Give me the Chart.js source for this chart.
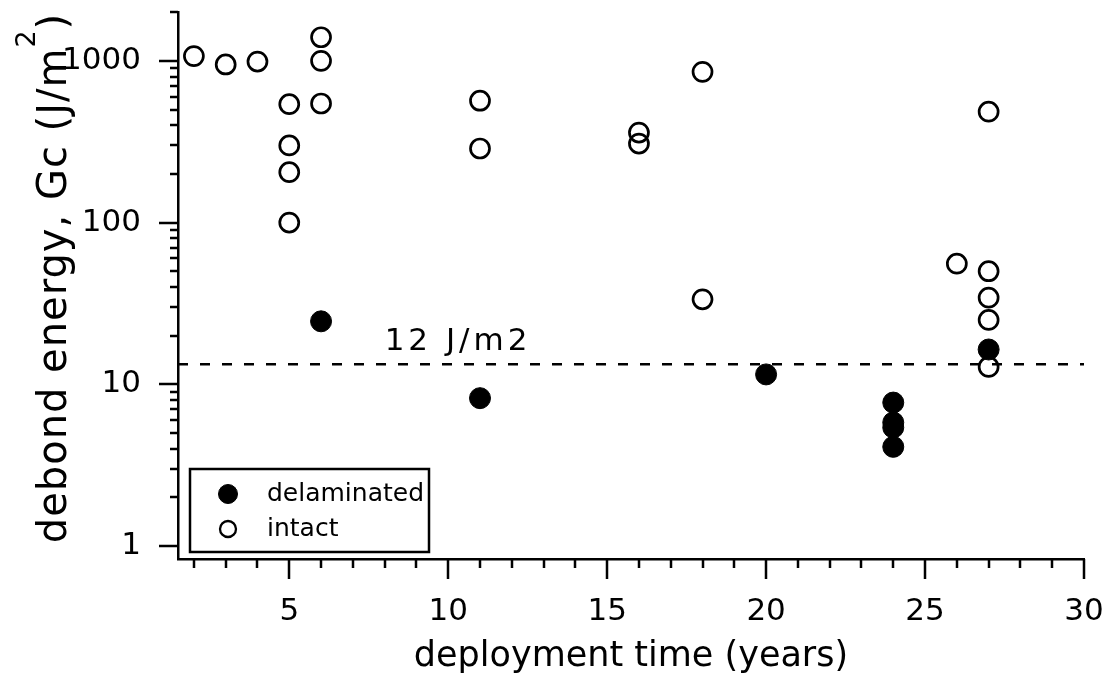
<!DOCTYPE html>
<html>
<head>
<meta charset="utf-8">
<script src="https://cdn.jsdelivr.net/npm/chart.js@4.4.0/dist/chart.umd.min.js"></script>
<style>
  html, body { margin: 0; padding: 0; background: #fff; }
  #wrap { width: 1105px; height: 676px; }
</style>
</head>
<body>
<div id="wrap"><canvas id="gcChart" width="1105" height="676"></canvas></div>
<script>
// values
const delamYears = [6, 11, 20, 24, 24, 24, 24, 27];
const delamGc = [24.5, 8.2, 11.5, 7.7, 5.8, 5.4, 4.1, 16.4];
const intactYears = [2, 3, 4, 5, 5, 5, 5, 6, 6, 6, 11, 11, 16, 16, 18, 18, 26, 27, 27, 27, 27, 27];
const intactGc = [1070, 950, 990, 540, 300, 205, 100, 1400, 1000, 545, 567, 287, 360, 308, 855, 33.5, 55.7, 485, 50, 34.3, 25, 12.8];

const thresholdGc = 13.3;
const thresholdLabel = '12 J/m2';
const thresholdLabelYear = 8;

const xMin = 1.5, xMax = 30;
const yMin = 0.83, yMax = 2000;
const xMajorTicks = [5, 10, 15, 20, 25, 30];
const xMinorTicks = [2, 3, 4, 6, 7, 8, 9, 11, 12, 13, 14, 16, 17, 18, 19, 21, 22, 23, 24, 26, 27, 28, 29];
const yMajorTicks = [1, 10, 100, 1000];
const yMinorSteps = [2, 3, 4, 5, 6, 7, 8, 9];

const yTitleMain = 'debond energy, Gc (J/m';
const yTitleSup = '2';
const yTitleEnd = ')';

const yAllTicks = [];
yMajorTicks.forEach(d => {
    yAllTicks.push(d);
    yMinorSteps.forEach(m => { if (d * m <= yMax) yAllTicks.push(d * m); });
});
const xAllTicks = xMajorTicks.concat(xMinorTicks).sort((a, b) => a - b);

Chart.defaults.font.family = '"DejaVu Sans", sans-serif';
Chart.defaults.color = '#000';

// tick marks: long for majors, short for minors, pointing out of the plot
const tickMarks = {
    id: 'tickMarks',
    afterDraw(chart) {
        const { ctx, scales: { x, y } } = chart;
        ctx.save();
        ctx.strokeStyle = '#000';
        ctx.lineWidth = 2.5;
        ctx.beginPath();
        x.ticks.forEach(t => {
            const px = Math.round(x.getPixelForValue(t.value));
            const len = xMajorTicks.includes(t.value) ? 20 : 9;
            ctx.moveTo(px, x.top);
            ctx.lineTo(px, x.top + len);
        });
        y.ticks.forEach(t => {
            const py = Math.round(y.getPixelForValue(t.value));
            const len = yMajorTicks.includes(t.value) ? 19 : 8;
            ctx.moveTo(y.right - len, py);
            ctx.lineTo(y.right, py);
        });
        ctx.stroke();
        ctx.restore();
    }
};

// rotated y title with a raised 2
const yTitle = {
    id: 'yTitle',
    afterDraw(chart) {
        const { ctx } = chart;
        ctx.save();
        ctx.fillStyle = '#000';
        ctx.textBaseline = 'alphabetic';
        ctx.textAlign = 'left';
        ctx.letterSpacing = '1px';
        ctx.translate(66, 278);
        ctx.rotate(-Math.PI / 2);
        ctx.font = '40px "DejaVu Sans"';
        const wMain = ctx.measureText(yTitleMain).width;
        const wEnd = ctx.measureText(yTitleEnd).width;
        ctx.font = '27px "DejaVu Sans"';
        const wSup = ctx.measureText(yTitleSup).width;
        let pos = -(wMain + wSup + wEnd) / 2;
        ctx.font = '40px "DejaVu Sans"';
        ctx.fillText(yTitleMain, pos, 0);
        pos += wMain;
        ctx.font = '27px "DejaVu Sans"';
        ctx.fillText(yTitleSup, pos, -31);
        pos += wSup;
        ctx.font = '40px "DejaVu Sans"';
        ctx.fillText(yTitleEnd, pos, 0);
        ctx.letterSpacing = '0px';
        ctx.restore();
    }
};

// "12 J/m2" text above the dashed line
const thresholdText = {
    id: 'thresholdText',
    afterDatasetsDraw(chart) {
        const { ctx, scales: { x, y } } = chart;
        ctx.save();
        ctx.font = '31px "DejaVu Sans"';
        ctx.letterSpacing = '4px';
        ctx.fillStyle = '#000';
        ctx.textAlign = 'left';
        ctx.textBaseline = 'alphabetic';
        ctx.fillText(thresholdLabel, x.getPixelForValue(thresholdLabelYear), y.getPixelForValue(thresholdGc) - 14);
        ctx.letterSpacing = '0px';
        ctx.restore();
    }
};

// boxed legend in the lower left corner
const boxLegend = {
    id: 'boxLegend',
    afterDraw(chart) {
        const { ctx, chartArea } = chart;
        const left = chartArea.left + 12, top = chartArea.bottom - 90;
        const w = 239, h = 83;
        ctx.save();
        ctx.letterSpacing = '0px';
        ctx.strokeStyle = '#000';
        ctx.lineWidth = 2.5;
        ctx.strokeRect(left, top, w, h);
        const sets = chart.data.datasets.slice(0, 2);
        sets.forEach((ds, i) => {
            const cy = top + 25 + i * 35;
            ctx.beginPath();
            ctx.arc(left + 38, cy, i ? 8 : 9.5, 0, Math.PI * 2);
            ctx.fillStyle = ds.pointBackgroundColor;
            ctx.fill();
            ctx.lineWidth = i ? 2.3 : 1;
            ctx.strokeStyle = ds.pointBorderColor;
            ctx.stroke();
            ctx.fillStyle = '#000';
            ctx.font = '25px "DejaVu Sans"';
            ctx.textBaseline = 'middle';
            ctx.fillText(ds.label, left + 77, cy);
        });
        ctx.restore();
    }
};

const ctx = document.getElementById('gcChart').getContext('2d');

const gcChart = new Chart(ctx, {
    type: 'scatter',
    data: {
        datasets: [{
            label: 'delaminated',
            data: delamYears.map((v, i) => ({ x: v, y: delamGc[i] })),
            pointRadius: 10.5,
            pointBackgroundColor: '#000',
            pointBorderColor: '#000',
            pointBorderWidth: 1
        }, {
            label: 'intact',
            data: intactYears.map((v, i) => ({ x: v, y: intactGc[i] })),
            pointRadius: 9.5,
            pointBackgroundColor: 'rgba(0,0,0,0)',
            pointBorderColor: '#000',
            pointBorderWidth: 2.7
        }, {
            type: 'line',
            label: thresholdLabel,
            data: [{ x: xMin, y: thresholdGc }, { x: xMax, y: thresholdGc }],
            borderColor: '#000',
            borderWidth: 2.5,
            borderDash: [10, 12],
            pointRadius: 0,
            fill: false
        }]
    },
    options: {
        responsive: false,
        animation: false,
        events: [],
        layout: { padding: { top: 9, right: 21, left: 0, bottom: 0 } },
        plugins: {
            legend: { display: false },
            tooltip: { enabled: false }
        },
        scales: {
            x: {
                type: 'linear',
                min: xMin,
                max: xMax,
                afterBuildTicks: s => { s.ticks = xAllTicks.map(v => ({ value: v })); },
                afterFit: s => { s.height = 117; s.paddingLeft = 0; s.paddingRight = 0; },
                grid: { display: false, drawTicks: false },
                border: { display: true, color: '#000', width: 2.5 },
                ticks: {
                    autoSkip: false,
                    maxRotation: 0,
                    padding: 34,
                    font: { size: 31 },
                    callback: v => xMajorTicks.includes(v) ? String(v) : ''
                },
                title: {
                    display: true,
                    text: 'deployment time (years)',
                    font: { size: 35 },
                    padding: { top: 0, bottom: -2 }
                }
            },
            y: {
                type: 'logarithmic',
                min: yMin,
                max: yMax,
                afterBuildTicks: s => { s.ticks = yAllTicks.map(v => ({ value: v })); },
                afterFit: s => { s.width = 178; s.paddingTop = 0; s.paddingBottom = 0; },
                grid: { display: false, drawTicks: false },
                border: { display: true, color: '#000', width: 2.5 },
                ticks: {
                    autoSkip: false,
                    padding: 37,
                    font: { size: 31 },
                    callback: v => yMajorTicks.includes(v) ? String(v) : ''
                },
                title: { display: false }
            }
        }
    },
    plugins: [tickMarks, thresholdText, yTitle, boxLegend]
});
</script>
</body>
</html>
